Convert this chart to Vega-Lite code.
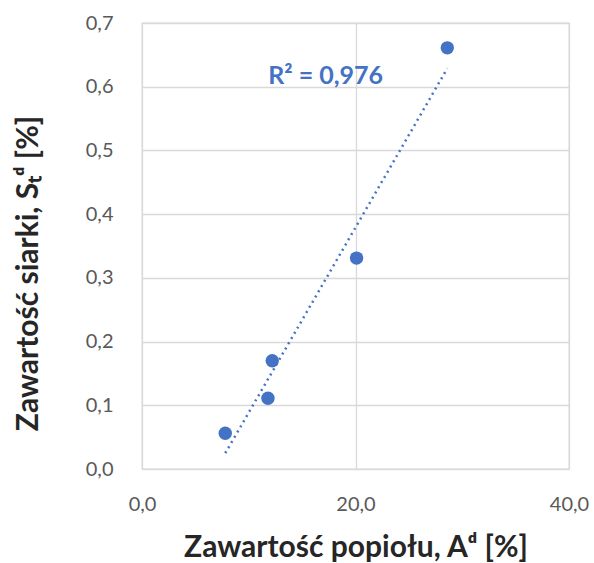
{
  "$schema": "https://vega.github.io/schema/vega-lite/v6.json",
  "width": 427,
  "height": 446,
  "autosize": "none",
  "padding": {"left": 142, "top": 23, "right": 25, "bottom": 94},
  "background": "white",
  "config": {
    "font": "Lato",
    "view": {"stroke": "#d9d9d9", "strokeWidth": 1.3},
    "axis": {
      "domain": false,
      "ticks": false,
      "gridColor": "#d9d9d9",
      "gridWidth": 1.3,
      "labelFontSize": 20,
      "labelColor": "#595959",
      "titleFontSize": 30,
      "titleFontWeight": "bold",
      "titleColor": "#262626",
      "labelFlush": false
    }
  },
  "datasets": {
    "pts": [
      {"A": 28.6, "S": 0.661},
      {"A": 20.1, "S": 0.331},
      {"A": 12.2, "S": 0.170},
      {"A": 11.8, "S": 0.111},
      {"A": 7.8, "S": 0.056}
    ],
    "label": [{"A": 17.2, "S": 0.617, "t": "R² = 0,976"}]
  },
  "encoding": {
    "x": {
      "field": "A",
      "type": "quantitative",
      "scale": {"domain": [0, 40], "nice": false, "zero": true},
      "axis": {
        "title": "Zawartość popiołu, Aᵈ [%]",
        "values": [0, 20, 40],
        "labelExpr": "replace(format(datum.value, '.1f'), '.', ',')",
        "labelPadding": 25,
        "titleY": 78,
        "titleBaseline": "middle"
      }
    },
    "y": {
      "field": "S",
      "type": "quantitative",
      "scale": {"domain": [0, 0.7], "nice": false},
      "axis": {
        "title": "Zawartość siarki, Sₜᵈ [%]",
        "values": [0, 0.1, 0.2, 0.3, 0.4, 0.5, 0.6, 0.7],
        "labelExpr": "replace(format(datum.value, '.1f'), '.', ',')",
        "labelPadding": 29,
        "titleX": -114,
        "titleY": 250,
        "titleBaseline": "middle"
      }
    }
  },
  "layer": [
    {
      "data": {"name": "pts"},
      "transform": [{"regression": "S", "on": "A"}],
      "mark": {"type": "line", "color": "#4472C4", "strokeDash": [2, 4], "strokeWidth": 2.5}
    },
    {
      "data": {"name": "pts"},
      "mark": {"type": "circle", "size": 180, "color": "#4472C4", "opacity": 1}
    },
    {
      "data": {"name": "label"},
      "mark": {"type": "text", "color": "#4472C4", "fontSize": 25, "fontWeight": "bold", "align": "center", "baseline": "middle"},
      "encoding": {"text": {"field": "t"}}
    }
  ]
}
